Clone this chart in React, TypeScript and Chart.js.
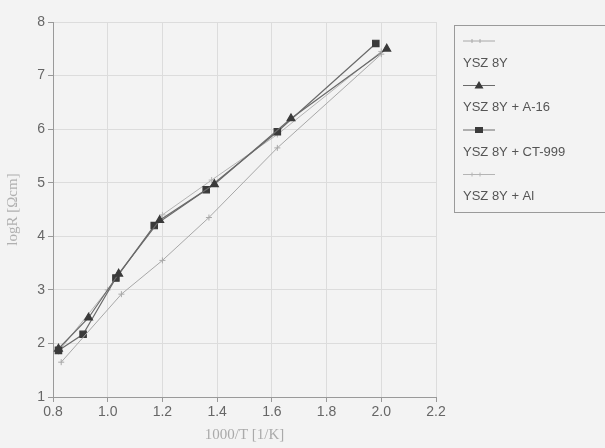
import React, { useEffect, useRef } from "react";
import { Chart, registerables } from "chart.js";
Chart.register(...registerables);

const seriesNames = ["YSZ 8Y", "YSZ 8Y + A-16", "YSZ 8Y + CT-999", "YSZ 8Y + Al"];
const yszX = [0.83, 1.05, 1.2, 1.37, 1.62, 2.0];
const yszY = [1.65, 2.92, 3.55, 4.35, 5.65, 7.4];
const a16X = [0.82, 0.93, 1.04, 1.19, 1.39, 1.67, 2.02];
const a16Y = [1.9, 2.48, 3.3, 4.3, 4.97, 6.2, 7.5];
const ctX = [0.82, 0.91, 1.03, 1.17, 1.36, 1.62, 1.98];
const ctY = [1.87, 2.17, 3.22, 4.2, 4.87, 5.95, 7.6];
const alX = [0.82, 1.0, 1.2, 1.38, 1.62, 2.0];
const alY = [1.85, 3.0, 4.4, 5.05, 5.9, 7.45];
const xTickMin = 0.8, xTickMax = 2.2, xStep = 0.2;
const yTickMin = 1, yTickMax = 8, yStep = 1;
const xTitle = "1000/T [1/K]";
const yTitle = "logR [Ωcm]";

const pts = (xs: number[], ys: number[]) => xs.map((x, i) => ({ x, y: ys[i] }));

const styles = [
  { color: "#a8a8a8", point: "cross", radius: 3, width: 1 },
  { color: "#6a6a6a", point: "triangle", radius: 4.5, width: 1.2 },
  { color: "#6a6a6a", point: "rect", radius: 4.5, width: 1.2 },
  { color: "#b4b4b4", point: "cross", radius: 3, width: 1 },
];
const markerFill = ["#a8a8a8", "#3a3a3a", "#3a3a3a", "#b4b4b4"];

const legendPlugin = {
  id: "customLegend",
  afterDraw(chart: any) {
    const ctx = chart.ctx;
    ctx.save();
    ctx.strokeStyle = "#9a9a9a";
    ctx.lineWidth = 1;
    ctx.strokeRect(454.5, 25.5, 160, 187);
    ctx.font = "13px 'Liberation Sans', Arial, sans-serif";
    ctx.textBaseline = "middle";
    seriesNames.forEach((name, i) => {
      const my = 41 + i * 44.5;
      const s = styles[i];
      ctx.strokeStyle = s.color;
      ctx.lineWidth = 1;
      ctx.beginPath();
      ctx.moveTo(463, my);
      ctx.lineTo(495, my);
      ctx.stroke();
      ctx.fillStyle = markerFill[i];
      ctx.strokeStyle = markerFill[i];
      const cx = 479;
      if (s.point === "triangle") {
        ctx.beginPath();
        ctx.moveTo(cx, my - 4.5);
        ctx.lineTo(cx + 4.5, my + 3);
        ctx.lineTo(cx - 4.5, my + 3);
        ctx.closePath();
        ctx.fill();
      } else if (s.point === "rect") {
        ctx.fillRect(cx - 4, my - 3, 8, 6);
      } else {
        ctx.beginPath();
        ctx.moveTo(cx - 7, my - 2);
        ctx.lineTo(cx - 7, my + 2);
        ctx.moveTo(cx + 1, my - 2);
        ctx.lineTo(cx + 1, my + 2);
        ctx.stroke();
      }
      ctx.fillStyle = "#555";
      ctx.fillText(name, 463, my + 22);
    });
    ctx.restore();
  },
};

const bgPlugin = {
  id: "bg",
  beforeDraw(chart: any) {
    const ctx = chart.ctx;
    ctx.save();
    ctx.fillStyle = "#f3f3f3";
    ctx.fillRect(0, 0, chart.width, chart.height);
    ctx.restore();
  },
};

export default function App() {
  const ref = useRef<HTMLCanvasElement>(null);
  useEffect(() => {
    if (!ref.current) return;
    const data = [pts(yszX, yszY), pts(a16X, a16Y), pts(ctX, ctY), pts(alX, alY)];
    const chart = new Chart(ref.current, {
      type: "line",
      data: {
        datasets: seriesNames.map((n, i) => ({
          label: n,
          data: data[i],
          borderColor: styles[i].color,
          borderWidth: styles[i].width,
          backgroundColor: markerFill[i],
          pointBackgroundColor: markerFill[i],
          pointBorderColor: markerFill[i],
          pointStyle: styles[i].point as any,
          pointRadius: styles[i].radius,
          tension: 0,
          fill: false,
        })),
      },
      options: {
        animation: false,
        responsive: false,
        layout: { padding: { top: 22, right: 169, left: 0, bottom: 0 } },
        plugins: { legend: { display: false }, tooltip: { enabled: false } },
        scales: {
          x: {
            type: "linear",
            min: xTickMin,
            max: xTickMax,
            ticks: {
              stepSize: xStep,
              color: "#666",
              font: { size: 14, family: "'Liberation Sans', Arial, sans-serif" },
              callback: (v: any) => Number(v).toFixed(1),
              padding: 2,
            },
            grid: { color: "#dcdcdc", tickLength: 5, tickColor: "#999" },
            border: { color: "#999" },
            title: {
              display: true,
              text: xTitle,
              color: "#aaa",
              font: { size: 15, family: "'Liberation Serif', serif" },
              padding: { top: 2 },
            },
            afterFit: (s: any) => { s.height = 51; },
          },
          y: {
            type: "linear",
            min: yTickMin,
            max: yTickMax,
            ticks: {
              stepSize: yStep,
              color: "#666",
              font: { size: 14, family: "'Liberation Sans', Arial, sans-serif" },
              padding: 3,
            },
            grid: { color: "#dcdcdc", tickLength: 5, tickColor: "#999" },
            border: { color: "#999" },
            title: {
              display: true,
              text: yTitle,
              color: "#b0b0b0",
              font: { size: 15, family: "'Liberation Serif', serif" },
            },
            afterFit: (s: any) => { s.width = 53; },
          },
        },
      },
      plugins: [bgPlugin, legendPlugin],
    });
    return () => chart.destroy();
  }, []);
  return (
    <div style={{ position: "fixed", left: 0, top: 0, width: 605, height: 448 }}>
      <canvas ref={ref} width={605} height={448} style={{ display: "block" }} />
    </div>
  );
}
